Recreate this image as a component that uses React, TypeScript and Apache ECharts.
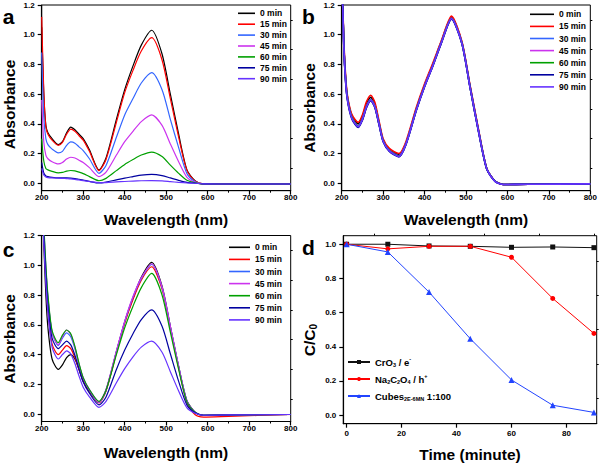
import React, { useEffect, useRef } from 'react';
import * as echarts from 'echarts';

const FONT = "'Liberation Sans', Arial, Helvetica, sans-serif";

// wavelength grid (nm) shared by panels a-c
const wavelengths = [200, 205, 210, 215, 225, 240, 250, 260, 270, 280, 290, 300, 315, 338, 355, 380, 400, 420, 440, 465, 490, 510, 530, 550, 570, 590, 650, 800];
const timeNames = ['0 min', '15 min', '30 min', '45 min', '60 min', '75 min', '90 min'];
const specColors = ['#000000', '#FF0000', '#3366FF', '#CC33EE', '#00A000', '#0000A0', '#6633FF'];

// panel a
const a0 = [1.05, 0.6, 0.39, 0.34, 0.3, 0.26, 0.28, 0.34, 0.378, 0.36, 0.33, 0.3, 0.225, 0.09, 0.17, 0.43, 0.63, 0.79, 0.93, 1.03, 0.87, 0.6, 0.33, 0.09, 0.015, -0.004, -0.005, -0.005];
const a15 = [1.12, 0.62, 0.38, 0.33, 0.29, 0.255, 0.275, 0.33, 0.365, 0.35, 0.32, 0.29, 0.215, 0.085, 0.16, 0.41, 0.61, 0.76, 0.89, 0.98, 0.83, 0.57, 0.31, 0.085, 0.013, -0.004, -0.005, -0.005];
const a30 = [0.88, 0.45, 0.3, 0.26, 0.23, 0.205, 0.215, 0.255, 0.278, 0.27, 0.245, 0.22, 0.165, 0.067, 0.12, 0.31, 0.46, 0.57, 0.675, 0.745, 0.63, 0.43, 0.24, 0.065, 0.01, -0.004, -0.005, -0.005];
const a45 = [0.56, 0.28, 0.19, 0.165, 0.145, 0.13, 0.14, 0.163, 0.175, 0.17, 0.155, 0.14, 0.105, 0.045, 0.075, 0.19, 0.28, 0.35, 0.415, 0.46, 0.39, 0.265, 0.145, 0.04, 0.006, -0.004, -0.005, -0.005];
const a60 = [0.3, 0.15, 0.1, 0.09, 0.08, 0.07, 0.073, 0.082, 0.086, 0.083, 0.075, 0.065, 0.045, 0.017, 0.033, 0.085, 0.127, 0.16, 0.19, 0.21, 0.18, 0.122, 0.067, 0.02, 0.003, -0.004, -0.005, -0.005];
const a75 = [0.14, 0.07, 0.05, 0.045, 0.04, 0.036, 0.036, 0.036, 0.035, 0.032, 0.027, 0.022, 0.013, 0.002, 0.008, 0.023, 0.035, 0.045, 0.055, 0.06, 0.052, 0.036, 0.02, 0.006, 0.0, -0.004, -0.005, -0.005];
const a90 = [0.1, 0.055, 0.042, 0.038, 0.036, 0.035, 0.033, 0.031, 0.029, 0.026, 0.022, 0.018, 0.012, 0.004, 0.005, 0.009, 0.012, 0.015, 0.017, 0.018, 0.016, 0.011, 0.006, 0.002, 0.0, -0.004, -0.005, -0.005];

// panel b
const b0 = [1.5, 0.95, 0.68, 0.56, 0.45, 0.4, 0.45, 0.535, 0.578, 0.53, 0.41, 0.29, 0.225, 0.192, 0.27, 0.5, 0.66, 0.8, 0.95, 1.115, 0.95, 0.65, 0.36, 0.1, 0.015, -0.008, -0.007, -0.004];
const b15 = [1.5, 0.97, 0.7, 0.57, 0.46, 0.41, 0.46, 0.55, 0.593, 0.545, 0.42, 0.3, 0.235, 0.2, 0.28, 0.51, 0.67, 0.81, 0.955, 1.125, 0.955, 0.655, 0.365, 0.1, 0.015, -0.008, -0.007, -0.004];
const b30 = [1.5, 0.94, 0.67, 0.55, 0.44, 0.385, 0.435, 0.52, 0.565, 0.52, 0.4, 0.285, 0.22, 0.185, 0.265, 0.495, 0.655, 0.795, 0.945, 1.11, 0.945, 0.645, 0.355, 0.098, 0.014, -0.008, -0.007, -0.004];
const b45 = [1.5, 0.94, 0.67, 0.55, 0.44, 0.38, 0.43, 0.515, 0.56, 0.515, 0.4, 0.285, 0.22, 0.183, 0.265, 0.495, 0.655, 0.795, 0.945, 1.11, 0.945, 0.645, 0.355, 0.098, 0.014, -0.008, -0.007, -0.004];
const b60 = [1.5, 0.94, 0.67, 0.55, 0.44, 0.38, 0.43, 0.515, 0.56, 0.515, 0.4, 0.285, 0.22, 0.182, 0.263, 0.493, 0.653, 0.793, 0.943, 1.108, 0.943, 0.643, 0.353, 0.097, 0.014, -0.008, -0.007, -0.004];
const b75 = [1.5, 0.93, 0.66, 0.54, 0.43, 0.375, 0.425, 0.51, 0.555, 0.51, 0.395, 0.28, 0.215, 0.178, 0.26, 0.49, 0.65, 0.79, 0.94, 1.105, 0.94, 0.64, 0.35, 0.096, 0.013, -0.008, -0.007, -0.004];
const b90 = [1.5, 0.93, 0.665, 0.545, 0.435, 0.38, 0.43, 0.515, 0.56, 0.515, 0.4, 0.283, 0.218, 0.18, 0.262, 0.492, 0.652, 0.792, 0.942, 1.108, 0.942, 0.642, 0.352, 0.097, 0.013, -0.008, -0.007, -0.004];

// panel c
const c0 = [1.6, 1.15, 0.8, 0.58, 0.37, 0.3, 0.33, 0.38, 0.4, 0.37, 0.3, 0.22, 0.15, 0.08, 0.16, 0.42, 0.62, 0.78, 0.92, 1.02, 0.86, 0.59, 0.32, 0.09, 0.012, -0.008, -0.006, -0.003];
const c15 = [1.5, 1.2, 0.92, 0.7, 0.47, 0.4, 0.43, 0.46, 0.44, 0.38, 0.3, 0.23, 0.155, 0.075, 0.155, 0.41, 0.61, 0.77, 0.9, 0.99, 0.84, 0.575, 0.31, 0.075, -0.005, -0.02, -0.015, -0.003];
const c30 = [1.6, 1.25, 0.98, 0.78, 0.55, 0.46, 0.51, 0.545, 0.52, 0.44, 0.33, 0.24, 0.16, 0.078, 0.16, 0.42, 0.62, 0.785, 0.91, 1.005, 0.85, 0.585, 0.32, 0.085, 0.01, -0.008, -0.006, -0.003];
const c45 = [1.6, 1.25, 0.98, 0.78, 0.55, 0.465, 0.52, 0.565, 0.535, 0.45, 0.335, 0.245, 0.165, 0.08, 0.165, 0.425, 0.625, 0.79, 0.915, 1.01, 0.855, 0.59, 0.32, 0.085, 0.01, -0.008, -0.006, -0.003];
const c60 = [1.6, 1.28, 1.0, 0.8, 0.56, 0.48, 0.53, 0.565, 0.54, 0.455, 0.34, 0.245, 0.165, 0.085, 0.16, 0.4, 0.58, 0.725, 0.85, 0.945, 0.8, 0.55, 0.3, 0.08, 0.01, -0.008, -0.006, -0.003];
const c75 = [1.55, 1.2, 0.93, 0.73, 0.51, 0.44, 0.465, 0.49, 0.465, 0.395, 0.3, 0.215, 0.14, 0.062, 0.115, 0.3, 0.43, 0.54, 0.635, 0.7, 0.59, 0.405, 0.22, 0.06, 0.008, -0.008, -0.006, -0.003];
const c90 = [1.5, 1.15, 0.88, 0.68, 0.45, 0.37, 0.4, 0.425, 0.405, 0.34, 0.255, 0.18, 0.115, 0.045, 0.085, 0.21, 0.305, 0.385, 0.45, 0.49, 0.415, 0.285, 0.155, 0.042, 0.005, -0.008, -0.006, -0.003];

// panel d
const timeMin = [0, 15, 30, 45, 60, 75, 90];
const cro3 = [1.0, 1.0, 0.99, 0.988, 0.982, 0.984, 0.98];
const na2c2o4 = [1.0, 0.973, 0.988, 0.988, 0.924, 0.683, 0.478];
const cubes = [1.0, 0.955, 0.72, 0.447, 0.206, 0.058, 0.016];
const dNames = ['CrO3 / e-', 'Na2C2O4 / h+', 'Cubes2E-6MN 1:100'];
const dRich = ['{n|CrO}{sb|3}{n| / e}{sp|-}', '{n|Na}{sb|2}{n|C}{sb|2}{n|O}{sb|4}{n| / h}{sp|+}', '{n|Cubes}{sb|2E-6MN}{n| 1:100}'];
const dColors = ['#111111', '#FF0000', '#2244FF'];
const dSymbols = ['rect', 'circle', 'triangle'];

const absLabels = [0, 0.2, 0.4, 0.6, 0.8, 1.0, 1.2];
const absMinor = [0.1, 0.3, 0.5, 0.7, 0.9, 1.1];
const ratioLabels = [0, 0.2, 0.4, 0.6, 0.8, 1.0];
const ratioMinor = [0.1, 0.3, 0.5, 0.7, 0.9];
const timeTicks = [0, 20, 40, 60, 80];
const timeMinorTicks = [10, 30, 50, 70, 90];

const panelSpectra = [
  [a0, a15, a30, a45, a60, a75, a90],
  [b0, b15, b30, b45, b60, b75, b90],
  [c0, c15, c30, c45, c60, c75, c90],
];

const grids = [
  { left: 41.7, top: 5, width: 249, height: 185.7 },
  { left: 341.7, top: 5, width: 249, height: 185.7 },
  { left: 41.7, top: 235.5, width: 249, height: 186 },
  { left: 343.3, top: 235.7, width: 253.4, height: 188 },
];

const legendPos = [
  { left: 238, top: 8.3, itemWidth: 17, itemGap: 0.9 },
  { left: 530, top: 9.3, itemWidth: 24, itemGap: 2.1 },
  { left: 229, top: 242.3, itemWidth: 21, itemGap: 2.1 },
];

const axisLineStyle = { color: '#000', width: 1.2 };
const labelStyle = { fontSize: 8, fontWeight: 'bold' as const, color: '#000', fontFamily: FONT };

function buildOption() {
  const xAxis: any[] = [];
  const yAxis: any[] = [];
  for (let i = 0; i < 3; i++) {
    xAxis.push({
      gridIndex: i, type: 'value', min: 200, max: 800, interval: 100,
      axisLine: { onZero: false, lineStyle: axisLineStyle },
      axisTick: { length: 4, lineStyle: axisLineStyle },
      minorTick: { show: true, splitNumber: 2, length: 2, lineStyle: { color: '#000', width: 1 } },
      axisLabel: { ...labelStyle, margin: 3 },
      splitLine: { show: false },
    });
  }
  xAxis.push({
    gridIndex: 3, type: 'value', min: -1.2, max: 91,
    axisLine: { onZero: false, lineStyle: axisLineStyle },
    axisTick: { length: 4, customValues: timeTicks, lineStyle: axisLineStyle },
    axisLabel: { ...labelStyle, margin: 6, customValues: timeTicks },
    splitLine: { show: false },
  });
  xAxis.push({
    gridIndex: 3, type: 'value', min: -1.2, max: 91,
    axisLine: { show: false, onZero: false },
    axisTick: { length: 2, customValues: timeMinorTicks, lineStyle: { color: '#000', width: 1 } },
    axisLabel: { show: false },
    splitLine: { show: false },
  });
  for (let i = 0; i < 4; i++) {
    const isD = i === 3;
    const max = isD ? 1.05 : 1.2;
    const major = isD ? ratioLabels : absLabels;
    const minor = isD ? ratioMinor : absMinor;
    yAxis.push({
      gridIndex: i, type: 'value', min: -0.05, max,
      axisLine: { onZero: false, lineStyle: axisLineStyle },
      axisTick: { length: 4, customValues: major, lineStyle: axisLineStyle },
      axisLabel: { ...labelStyle, margin: 7, customValues: major, formatter: (v: number) => v.toFixed(1) },
      splitLine: { show: false },
    });
    yAxis.push({
      gridIndex: i, type: 'value', min: -0.05, max,
      axisLine: { show: false, onZero: false },
      axisTick: { length: 2, customValues: minor, lineStyle: { color: '#000', width: 1 } },
      axisLabel: { show: false },
      splitLine: { show: false },
    });
  }

  const series: any[] = [];
  panelSpectra.forEach((panel, p) => {
    panel.forEach((vals, k) => {
      series.push({
        type: 'line', name: timeNames[k], xAxisIndex: p, yAxisIndex: p * 2,
        data: wavelengths.map((w, j) => [w, vals[j]]),
        symbol: 'none', smooth: 0.25,
        lineStyle: { color: specColors[k], width: p === 1 ? 1.6 : 1.2 },
        itemStyle: { color: specColors[k] },
      });
    });
  });
  const dData = [cro3, na2c2o4, cubes];
  dData.forEach((vals, k) => {
    series.push({
      type: 'line', name: dNames[k], xAxisIndex: 3, yAxisIndex: 6,
      data: timeMin.map((t, j) => [t, vals[j]]),
      symbol: dSymbols[k], symbolSize: k === 2 ? 6 : 5, showSymbol: true,
      lineStyle: { color: dColors[k], width: 1 },
      itemStyle: { color: dColors[k] },
    });
  });

  const legend: any[] = legendPos.map((lp) => ({
    orient: 'vertical', left: lp.left, top: lp.top, padding: 0,
    itemWidth: lp.itemWidth, itemHeight: 1.6, itemGap: lp.itemGap,
    icon: 'rect',
    data: timeNames.map((n) => ({ name: n })),
    textStyle: { fontSize: 8.5, fontWeight: 'bold', color: '#000', fontFamily: FONT, lineHeight: 10 },
    selectedMode: false,
  }));
  legend.push({
    orient: 'vertical', left: 347, top: 356, padding: 0,
    itemWidth: 22, itemHeight: 5, itemGap: 5,
    data: dNames,
    selectedMode: false,
    formatter: (name: string) => dRich[dNames.indexOf(name)],
    textStyle: {
      color: '#000', fontFamily: FONT, lineHeight: 12,
      rich: {
        n: { fontSize: 9.5, fontWeight: 'bold', fontFamily: FONT, lineHeight: 12, color: '#000' },
        sb: { fontSize: 5.5, fontWeight: 'bold', fontFamily: FONT, lineHeight: 6, verticalAlign: 'bottom', color: '#000' },
        sp: { fontSize: 5.5, fontWeight: 'bold', fontFamily: FONT, lineHeight: 6, verticalAlign: 'top', color: '#000' },
      },
    },
  });

  const titleStyle = { fontSize: 15.5, fontWeight: 'bold', fontFamily: FONT, fill: '#000', align: 'center', verticalAlign: 'middle' };
  const letterStyle = { fontSize: 21, fontWeight: 'bold', fontFamily: FONT, fill: '#000', align: 'center', verticalAlign: 'middle' };
  const graphic: any[] = [
    { type: 'text', x: 166, y: 219, style: { ...titleStyle, text: 'Wavelength (nm)' } },
    { type: 'text', x: 466, y: 219, style: { ...titleStyle, text: 'Wavelength (nm)' } },
    { type: 'text', x: 166, y: 452, style: { ...titleStyle, text: 'Wavelength (nm)' } },
    { type: 'text', x: 470, y: 454, style: { ...titleStyle, text: 'Time (minute)' } },
    { type: 'text', x: 9, y: 104.5, rotation: Math.PI / 2, style: { ...titleStyle, text: 'Absorbance' } },
    { type: 'text', x: 309, y: 108, rotation: Math.PI / 2, style: { ...titleStyle, text: 'Absorbance' } },
    { type: 'text', x: 9, y: 339, rotation: Math.PI / 2, style: { ...titleStyle, text: 'Absorbance' } },
    {
      type: 'text', x: 309, y: 340, rotation: Math.PI / 2,
      style: {
        text: '{n|C/C}{s|0}', fill: '#000', align: 'center', verticalAlign: 'middle',
        rich: {
          n: { fontSize: 15.5, fontWeight: 'bold', fontFamily: FONT, lineHeight: 18 },
          s: { fontSize: 10, fontWeight: 'bold', fontFamily: FONT, lineHeight: 9, verticalAlign: 'bottom' },
        },
      },
    },
    { type: 'text', x: 8.5, y: 16.4, style: { ...letterStyle, text: 'a' } },
    { type: 'text', x: 308.5, y: 16.4, style: { ...letterStyle, text: 'b' } },
    { type: 'text', x: 8.5, y: 249.4, style: { ...letterStyle, text: 'c' } },
    { type: 'text', x: 308.5, y: 247.4, style: { ...letterStyle, text: 'd' } },
  ];

  return {
    animation: false,
    backgroundColor: '#fff',
    textStyle: { fontFamily: FONT },
    grid: grids.map((g) => ({ ...g, show: true, borderColor: '#000', borderWidth: 1, backgroundColor: 'transparent', containLabel: false })),
    xAxis, yAxis, series, legend, graphic,
  };
}

export default function App() {
  const ref = useRef<HTMLDivElement>(null);
  useEffect(() => {
    if (!ref.current) return;
    const chart = echarts.init(ref.current, undefined, { renderer: 'svg' });
    chart.setOption(buildOption() as any);
    return () => chart.dispose();
  }, []);
  return <div ref={ref} style={{ width: 600, height: 466, position: 'absolute', left: 0, top: 0 }} />;
}
